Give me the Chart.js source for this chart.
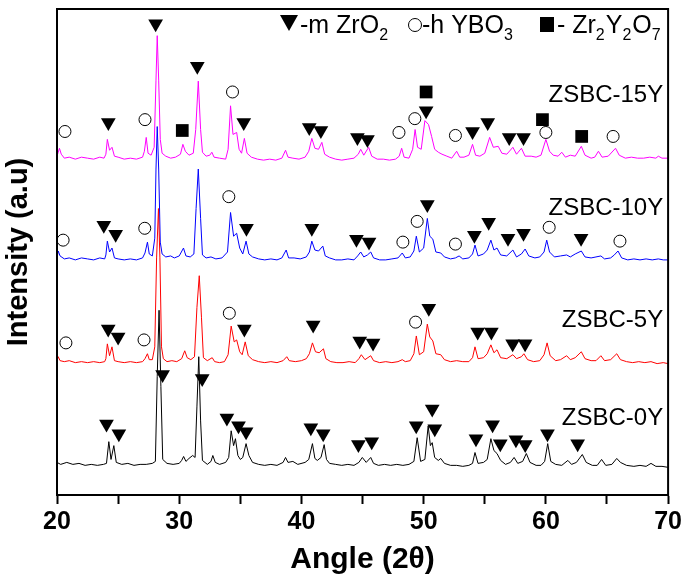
<!DOCTYPE html>
<html>
<head>
<meta charset="utf-8">
<script src="https://cdn.jsdelivr.net/npm/chart.js@4.4.0/dist/chart.umd.min.js"></script>
<style>
  html, body { margin: 0; padding: 0; background: #fff; }
</style>
</head>
<body>
<canvas id="xrd" width="685" height="580"></canvas>
<script>
// patterns: [2theta, intensity (a.u., offset included)]
var zsbc0Y = [
  [20.0,33],[20.3,31],[20.8,33],[21.3,31],[21.8,32],[22.3,30],[22.8,31],[23.3,30],[23.8,31],
  [24.05,32],[24.24,54],[24.42,36],[24.65,50],[24.85,33],
  [25.3,31],[25.8,32],[26.3,30],[26.8,31],[27.3,31],[27.8,32],
  [28.05,34],[28.2,120],[28.35,187],[28.5,110],[28.65,36],
  [29.0,32],[29.5,31],[30.0,32],[30.2,35],[30.36,39],[30.55,34],[30.8,37],[31.1,40],[31.3,38],
  [31.45,90],[31.6,140],[31.75,75],[31.9,35],
  [32.3,31],[32.6,34],[32.75,40],[32.95,33],[33.3,31],[33.8,33],
  [34.05,38],[34.25,65],[34.45,50],[34.6,57],[34.8,40],[35.0,36],[35.2,38],[35.47,52],[35.7,40],[36.0,33],
  [36.5,31],[37.0,30],[37.5,31],[38.0,30],[38.5,33],[38.7,38],[38.9,33],[39.3,34],[39.7,31],[40.3,33],
  [40.6,36],[40.9,52],[41.1,37],[41.3,35],[41.6,38],[41.86,51],[42.05,36],[42.3,32],
  [42.8,31],[43.3,30],[43.8,31],[44.3,30],[44.7,33],[44.98,38],[45.3,33],[45.67,38],[45.9,32],
  [46.3,30],[46.8,31],[47.3,30],[47.8,31],[48.3,30],[48.8,31],
  [49.2,34],[49.47,58],[49.75,34],[50.1,36],[50.37,70],[50.55,50],[50.7,53],[50.9,38],[51.2,35],[51.4,37],[51.7,32],
  [52.2,30],[52.7,30],[53.2,29],[53.7,30],[54.0,32],[54.2,43],[54.45,32],[54.9,33],[55.2,36],
  [55.5,57],[55.75,45],[56.0,42],[56.3,35],[56.7,31],[57.1,33],[57.4,38],[57.7,32],[58.1,34],[58.4,42],[58.7,33],
  [59.2,30],[59.6,30],[59.9,34],[60.15,52],[60.4,34],[60.8,31],[61.3,30],[61.8,35],[62.1,31],[62.5,33],[62.98,41],[63.3,33],
  [63.8,30],[64.2,30],[64.56,36],[64.9,30],[65.4,31],[65.8,37],[66.1,33],[66.6,30],[67.2,29],[67.7,30],[68.2,29],[68.6,32],[69.0,29],[69.5,29],[70.0,28]
];
var zsbc5Y = [
  [20.0,136],[20.1,140],[20.25,136],[20.6,135],[21.0,136],[21.5,134],[22.0,135],[22.5,134],[23.0,135],[23.5,134],[23.9,135],
  [24.0,138],[24.12,153],[24.3,141],[24.5,150],[24.7,136],[25.0,135],[25.5,134],[26.0,135],[26.5,134],[27.0,135],
  [27.2,138],[27.4,143],[27.55,137],[27.8,137],[28.0,150],[28.15,240],[28.3,290],[28.42,240],[28.55,150],[28.7,138],[29.0,135],[29.4,136],[29.8,135],
  [30.2,138],[30.45,146],[30.65,139],[30.95,137],[31.25,140],[31.45,190],[31.64,222],[31.82,180],[31.98,139],[32.3,136],[32.7,139],[32.9,135],[33.3,134],[33.7,135],
  [34.0,142],[34.25,171],[34.5,155],[34.7,157],[34.95,145],[35.15,142],[35.4,155],[35.65,141],[36.0,137],[36.5,135],[37.0,134],[37.5,135],[38.0,134],[38.5,136],
  [38.8,140],[39.0,136],[39.5,135],[40.0,136],[40.4,138],[40.65,143],[40.9,154],[41.15,145],[41.45,144],[41.8,148],[42.0,138],[42.4,135],[42.9,134],[43.4,134],[43.9,135],[44.4,134],
  [44.7,138],[44.9,142],[45.2,137],[45.67,141],[45.9,136],[46.4,134],[46.9,135],[47.4,134],[47.9,135],[48.25,137],[48.5,135],[48.9,136],
  [49.2,143],[49.4,161],[49.65,142],[50.0,145],[50.3,173],[50.5,160],[50.75,156],[51.0,143],[51.4,142],[51.7,137],[52.2,135],[52.7,136],[53.2,135],[53.7,135],
  [54.0,139],[54.2,150],[54.45,138],[54.9,139],[55.2,143],[55.5,152],[55.75,144],[56.0,147],[56.3,139],[56.8,138],[57.3,142],[57.6,138],[58.0,140],[58.2,143],[58.5,137],
  [59.0,135],[59.5,136],[59.85,142],[60.1,154],[60.35,141],[60.8,136],[61.2,137],[61.7,141],[62.0,137],[62.4,139],[62.9,145],[63.2,138],
  [63.7,136],[64.1,136],[64.5,141],[64.8,136],[65.3,137],[65.8,143],[66.1,137],[66.6,135],[67.1,134],[67.6,135],[68.1,134],[68.6,135],[69.1,133],[69.6,134],[70.0,133]
];
var zsbc10Y = [
  [20.0,240],[20.1,247],[20.25,242],[20.6,239],[21.0,240],[21.5,238],[22.0,240],[22.5,239],[23.0,238],[23.5,240],[23.9,239],
  [24.0,243],[24.12,257],[24.3,246],[24.5,250],[24.7,240],[25.0,239],[25.5,238],[26.0,239],[26.5,238],[27.0,240],
  [27.2,245],[27.4,256],[27.55,244],[27.8,242],[28.0,260],[28.1,330],[28.2,373],[28.32,330],[28.45,256],[28.6,244],[28.9,241],[29.3,242],[29.6,240],
  [30.0,242],[30.35,250],[30.55,242],[30.9,241],[31.2,244],[31.38,290],[31.56,330],[31.75,280],[31.9,243],[32.2,240],[32.6,241],[33.0,239],[33.5,240],
  [33.95,246],[34.2,286],[34.45,262],[34.7,265],[34.95,250],[35.2,244],[35.47,257],[35.7,244],[36.0,241],[36.5,239],[37.0,238],[37.5,239],[38.0,238],[38.4,240],
  [38.75,248],[38.95,240],[39.4,240],[39.9,239],[40.4,241],[40.65,246],[40.85,257],[41.1,248],[41.4,247],[41.75,252],[41.95,242],[42.3,240],[42.8,238],[43.3,238],[43.8,239],[44.3,238],
  [44.6,242],[44.85,246],[45.1,241],[45.4,243],[45.67,246],[45.9,240],[46.4,238],[46.9,238],[47.4,239],[47.9,240],[48.25,245],[48.5,240],[48.9,241],
  [49.2,247],[49.4,262],[49.65,246],[50.0,250],[50.3,280],[50.5,262],[50.75,259],[51.0,246],[51.4,245],[51.7,241],[52.2,239],[52.6,240],[52.9,242],[53.2,239],[53.7,240],
  [54.0,244],[54.2,253],[54.45,242],[54.9,244],[55.2,248],[55.5,258],[55.75,248],[56.0,250],[56.3,243],[56.8,242],[57.3,248],[57.6,241],[58.0,244],[58.3,249],[58.6,242],
  [59.1,240],[59.5,241],[59.85,246],[60.07,258],[60.3,246],[60.7,241],[61.2,242],[61.7,243],[62.0,241],[62.4,244],[62.9,247],[63.2,241],
  [63.7,240],[64.1,241],[64.5,242],[64.8,239],[65.3,240],[65.6,243],[65.9,247],[66.2,240],[66.7,238],[67.2,239],[67.7,238],[68.2,239],[68.7,238],[69.2,239],[69.6,238],[70.0,238]
];
var zsbc15Y = [
  [20.0,343],[20.1,347],[20.2,351],[20.35,345],[20.6,341],[21.0,342],[21.5,340],[22.0,342],[22.5,341],[23.0,340],[23.5,342],[23.85,341],
  [24.0,345],[24.12,360],[24.3,349],[24.5,352],[24.7,343],[25.0,342],[25.5,340],[26.0,341],[26.5,340],[27.0,342],
  [27.15,348],[27.3,362],[27.45,346],[27.7,344],[27.95,352],[28.1,420],[28.2,465],[28.32,420],[28.45,360],[28.6,346],[28.9,343],[29.3,341],[29.7,342],
  [30.1,345],[30.3,355],[30.5,348],[30.8,344],[31.15,346],[31.35,370],[31.56,419],[31.75,370],[31.9,347],[32.2,343],[32.5,344],[32.67,347],[32.85,342],[33.3,341],[33.8,340],
  [34.0,350],[34.2,394],[34.4,365],[34.7,367],[34.9,350],[35.1,346],[35.33,361],[35.55,346],[35.9,342],[36.4,340],[36.9,339],[37.4,340],[37.9,339],[38.4,341],
  [38.7,349],[38.9,342],[39.3,341],[39.8,340],[40.3,342],[40.6,348],[40.85,361],[41.1,351],[41.4,350],[41.67,357],[41.9,345],[42.3,342],[42.8,340],[43.3,339],[43.8,340],[44.3,341],
  [44.65,345],[44.85,350],[45.1,344],[45.5,352],[45.75,343],[46.2,340],[46.7,340],[47.2,339],[47.7,340],[48.0,343],[48.2,351],[48.4,342],[48.8,341],
  [49.1,350],[49.3,370],[49.5,352],[49.8,350],[50.1,379],[50.4,375],[50.65,363],[50.9,350],[51.2,347],[51.5,345],[51.9,343],[52.3,341],
  [52.7,348],[52.95,342],[53.3,342],[53.7,344],[54.0,355],[54.25,344],[54.6,343],[55.0,346],[55.4,362],[55.7,352],[56.1,353],[56.4,346],[56.8,345],
  [57.3,352],[57.6,345],[58.0,351],[58.3,343],[58.8,343],[59.2,342],[59.6,344],[60.0,360],[60.3,348],[60.6,344],[61.0,343],[61.3,347],[61.6,342],[62.0,344],[62.4,343],[62.9,353],[63.2,344],
  [63.7,341],[64.0,342],[64.3,348],[64.6,342],[65.1,343],[65.7,351],[66.0,344],[66.5,341],[67.0,342],[67.5,341],[68.0,341],[68.5,342],[69.0,341],[69.2,343],[69.5,341],[70.0,341]
];

// phase markers [2theta, height]
var triangles = [
  [24.2,377],[28.07,477],[31.48,434],[35.28,377],[40.64,372],[41.59,369],[44.58,362],[45.4,360],[50.2,389],[54.0,368],[55.24,377],[57.0,362],[58.17,362],
  [23.83,273],[24.8,264],[35.5,270],[40.85,270],[44.5,259],[45.53,256],[50.3,294],[54.15,263],[55.32,276],[56.9,260],[58.17,265],[62.88,260],
  [24.19,168],[25.0,160],[35.33,168],[40.96,172],[44.77,156],[45.86,154],[50.42,189],[54.42,165],[55.54,165],[57.28,153],[58.3,153],
  [24.05,72],[25.06,62],[28.64,122],[31.88,118],[33.9,78],[34.85,70],[35.47,64],[40.77,68],[41.78,62],[44.66,51],[45.75,54],[49.39,70],
  [50.7,87],[50.91,67],[54.28,57],[55.64,71],[56.27,52],[57.55,56],[58.31,51],[60.13,62],[62.6,52]
];
var circles = [
  [20.65,368],[27.2,380],[34.36,408],[47.98,367],[49.28,381],[52.6,364],[60.0,367],[65.5,363],
  [20.5,258],[27.18,270],[34.06,302],[48.3,256],[49.47,277],[52.6,254],[60.27,271],[66.06,257],
  [20.73,154],[27.12,157],[34.1,184],[49.34,175]
];
var squares = [[30.25,369],[50.2,408],[59.72,380],[62.93,363]];

var sampleNames = ['ZSBC-0Y', 'ZSBC-5Y', 'ZSBC-10Y', 'ZSBC-15Y'];
var sampleColors = ['#000000', '#ff0000', '#0000ff', '#ff00ff'];
var nameHeights = [78, 177, 290, 405];
var xTicks = [20, 30, 40, 50, 60, 70];

Chart.defaults.font.family = '"Liberation Sans", Arial, sans-serif';
Chart.defaults.color = '#000';

function toXY(p) { return {x: p[0], y: p[1]}; }

function lineSet(name, pts, color) {
  return {
    label: name, data: pts.map(toXY), borderColor: color, borderWidth: 1,
    pointRadius: 0, tension: 0, fill: false
  };
}

function markerSet(name, pts, style, r, fillC, bw, rot) {
  return {
    label: name, data: pts.map(toXY), showLine: false,
    pointStyle: style, pointRadius: r, pointRotation: rot || 0,
    pointBackgroundColor: fillC, pointBorderColor: '#000', pointBorderWidth: bw
  };
}

// frame, sample names and the phase key
var extras = {
  id: 'extras',
  afterDraw: function(chart) {
    var ctx = chart.ctx, a = chart.chartArea;
    var xs = chart.scales.x, ys = chart.scales.y;
    ctx.save();
    ctx.strokeStyle = '#000';
    ctx.lineWidth = 2;
    ctx.strokeRect(a.left, a.top, a.right - a.left, a.bottom - a.top);

    ctx.fillStyle = '#000';
    ctx.font = '24px "Liberation Sans", Arial, sans-serif';
    ctx.textAlign = 'right';
    ctx.textBaseline = 'middle';
    for (var i = 0; i < sampleNames.length; i++) {
      ctx.fillText(sampleNames[i], xs.getPixelForValue(69.6), ys.getPixelForValue(nameHeights[i]));
    }

    // key
    ctx.textAlign = 'left';
    ctx.textBaseline = 'alphabetic';
    function runText(x, parts) {
      parts.forEach(function(p) {
        ctx.font = p[1] ? '16px "Liberation Sans", Arial, sans-serif' : '25px "Liberation Sans", Arial, sans-serif';
        ctx.fillText(p[0], x, p[1] ? 40 : 33);
        x += ctx.measureText(p[0]).width + (p[1] ? 1 : 0);
      });
    }
    ctx.beginPath();
    ctx.moveTo(280, 15); ctx.lineTo(298, 15); ctx.lineTo(289, 31); ctx.closePath();
    ctx.fill();
    runText(300, [['-m ZrO', 0], ['2', 1]]);

    ctx.lineWidth = 1;
    ctx.beginPath();
    ctx.arc(415, 25, 6.5, 0, Math.PI * 2);
    ctx.stroke();
    runText(422, [['-h YBO', 0], ['3', 1]]);

    ctx.fillRect(540, 17, 14, 15);
    runText(557, [['- Zr', 0], ['2', 1], ['Y', 0], ['2', 1], ['O', 0], ['7', 1]]);
    ctx.restore();
  }
};

new Chart(document.getElementById('xrd'), {
  type: 'line',
  data: {
    datasets: [
      markerSet('m-ZrO2', triangles, 'triangle', 8.5, '#000', 0, 180),
      markerSet('h-YBO3', circles, 'circle', 6, 'rgba(0,0,0,0)', 1),
      markerSet('Zr2Y2O7', squares, 'rect', 9, '#000', 0),
      lineSet(sampleNames[0], zsbc0Y, sampleColors[0]),
      lineSet(sampleNames[1], zsbc5Y, sampleColors[1]),
      lineSet(sampleNames[2], zsbc10Y, sampleColors[2]),
      lineSet(sampleNames[3], zsbc15Y, sampleColors[3])
    ]
  },
  options: {
    responsive: false,
    animation: false,
    layout: { padding: { top: 3, right: 15, left: 0, bottom: 0 } },
    plugins: { legend: { display: false }, tooltip: { enabled: false } },
    scales: {
      x: {
        type: 'linear', min: 20, max: 70,
        afterFit: function(s) { s.height = 85; },
        ticks: {
          stepSize: 5, autoSkip: false, maxRotation: 0, padding: 3,
          font: { size: 25, weight: 'bold' },
          callback: function(v) { return xTicks.indexOf(v) >= 0 ? v : ''; }
        },
        grid: { drawOnChartArea: false, tickLength: 9, tickWidth: 2, color: '#000' },
        border: { color: '#000', width: 2 },
        title: { display: true, text: 'Angle (2θ)', font: { size: 30, weight: 'bold' }, padding: { top: 0, bottom: 2 } }
      },
      y: {
        min: 0, max: 492,
        afterFit: function(s) { s.width = 57; },
        ticks: { display: false },
        grid: { display: false },
        border: { color: '#000', width: 2 },
        title: { display: true, text: 'Intensity (a.u)', font: { size: 29, weight: 'bold' }, padding: { top: 2, bottom: 0 } }
      }
    }
  },
  plugins: [extras]
});
</script>
</body>
</html>
